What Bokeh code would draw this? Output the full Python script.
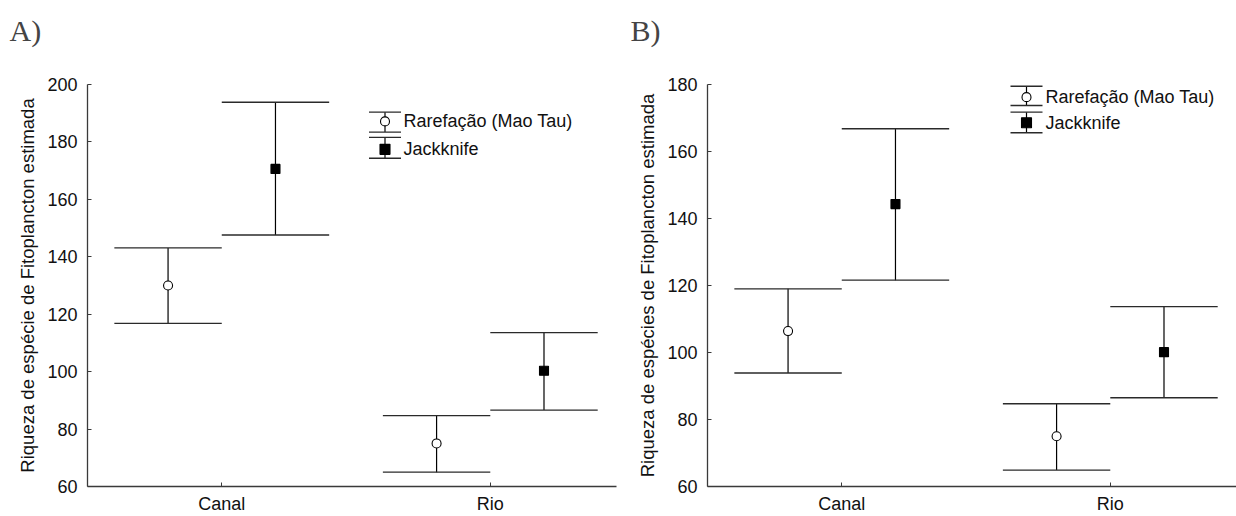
from bokeh.plotting import figure
from bokeh.layouts import row
from bokeh.models import FixedTicker, Label, Range1d
from bokeh.embed import file_html
from bokeh.resources import INLINE

# Categories on the x axis
categories = ["Canal", "Rio"]
series_names = ["Rarefação (Mao Tau)", "Jackknife"]

# Panel A: richness estimates with confidence limits
a_rare_mean = [130.0, 75.0]
a_rare_low = [116.8, 65.0]
a_rare_high = [143.1, 84.7]
a_jack_mean = [170.6, 100.3]
a_jack_low = [147.6, 86.6]
a_jack_high = [193.8, 113.6]

# Panel B
b_rare_mean = [106.4, 75.0]
b_rare_low = [93.9, 64.9]
b_rare_high = [119.0, 84.7]
b_jack_mean = [144.3, 100.1]
b_jack_low = [121.6, 86.5]
b_jack_high = [166.8, 113.7]

a_yticks = [60, 80, 100, 120, 140, 160, 180, 200]
b_yticks = [60, 80, 100, 120, 140, 160, 180]

SANS = "Liberation Sans"
SERIF = "Liberation Serif"
FS = "18px"
AXIS_COLOR = "#3a3a3a"

X_RANGE = (-0.5, 1.47)
FRAME_W = 529
FRAME_H = 403
DODGE = 0.2
CAP = 0.2


def make_panel(tag, tag_offset, ylabel, yr, yticks, rare, jack, left_border, right_border, legend_px):
    p = figure(width=618, height=516, output_backend="svg", toolbar_location=None,
               x_range=Range1d(*X_RANGE), y_range=Range1d(*yr),
               min_border_left=left_border, min_border_right=right_border,
               min_border_top=84, min_border_bottom=29)
    p.outline_line_color = None
    p.grid.visible = False
    p.background_fill_color = "white"
    p.border_fill_color = "white"

    # panel tag (trailing blank line lifts it away from the frame)
    p.title.text = tag + "\n "
    p.title.text_font = SERIF
    p.title.text_font_size = "30px"
    p.title.text_font_style = "normal"
    p.title.align = "left"
    p.title.offset = tag_offset
    p.title.standoff = 10

    # axes
    p.xaxis.ticker = FixedTicker(ticks=list(range(len(categories))))
    p.xaxis.major_label_overrides = {i: c for i, c in enumerate(categories)}
    p.yaxis.ticker = FixedTicker(ticks=yticks)
    for ax in (p.xaxis, p.yaxis):
        ax.axis_line_color = AXIS_COLOR
        ax.axis_line_width = 1.3
        ax.major_tick_line_color = AXIS_COLOR
        ax.major_tick_in = 4
        ax.major_tick_out = 0
        ax.minor_tick_line_color = None
        ax.major_label_text_font = SANS
        ax.major_label_text_font_size = FS
        ax.major_label_text_color = "#111111"
    p.xaxis.major_label_standoff = 7
    p.yaxis.major_label_standoff = 10
    p.yaxis.axis_label = ylabel
    p.yaxis.axis_label_text_font = SANS
    p.yaxis.axis_label_text_font_size = "18.5px"
    p.yaxis.axis_label_text_font_style = "normal"
    p.yaxis.axis_label_text_color = "#111111"
    p.yaxis.axis_label_standoff = 6

    # error bars with centre markers
    for (mean, low, high), off, marker, fill in (
        (rare, -DODGE, "circle", "white"),
        (jack, DODGE, "square", "black"),
    ):
        xs = [i + off for i in range(len(categories))]
        p.segment(x0=xs, x1=xs, y0=low, y1=high, line_color="black", line_width=1.2)
        x0 = [x - CAP for x in xs]
        x1 = [x + CAP for x in xs]
        p.segment(x0=x0, x1=x1, y0=high, y1=high, line_color="#2a2a2a", line_width=1.4)
        p.segment(x0=x0, x1=x1, y0=low, y1=low, line_color="#2a2a2a", line_width=1.4)
        p.scatter(x=xs, y=mean, marker=marker, size=9, fill_color=fill,
                  line_color="black", line_width=1.1)

    # pixel offsets (from frame left / top) to data coordinates
    def dx(px):
        return X_RANGE[0] + px * (X_RANGE[1] - X_RANGE[0]) / FRAME_W

    def dy(px):
        return yr[1] - px * (yr[1] - yr[0]) / FRAME_H

    # legend drawn as small error-bar icons
    cx, half, text_x, rows = legend_px
    for (top, mid, bot), marker, fill, name in zip(rows, ("circle", "square"), ("white", "black"), series_names):
        p.segment(x0=[dx(cx)], x1=[dx(cx)], y0=[dy(top)], y1=[dy(bot)], line_color="black", line_width=1.2)
        p.segment(x0=[dx(cx - half)] * 2, x1=[dx(cx + half)] * 2, y0=[dy(top), dy(bot)], y1=[dy(top), dy(bot)],
                  line_color="#2a2a2a", line_width=1.4)
        p.scatter(x=[dx(cx)], y=[dy(mid)], marker=marker, size=9 if marker == "circle" else 10,
                  fill_color=fill, line_color="black", line_width=1.1)
        p.add_layout(Label(x=dx(text_x), y=dy(mid), text=name, text_font=SANS, text_font_size=FS,
                           text_baseline="middle", text_align="left", text_color="#111111"))
    return p


pa = make_panel("A)", -78, "Riqueza de espécie de Fitoplancton estimada", (60, 200), a_yticks,
                (a_rare_mean, a_rare_low, a_rare_high), (a_jack_mean, a_jack_low, a_jack_high),
                87, 2, (297.5, 16, 316, [(27.7, 37, 47.7), (53, 65, 74)]))
pb = make_panel("B)", -77, "Riqueza de espécies de Fitoplancton estimada", (60, 180), b_yticks,
                (b_rare_mean, b_rare_low, b_rare_high), (b_jack_mean, b_jack_low, b_jack_high),
                89, 0, (319, 16, 338, [(1.7, 12.7, 21), (27.7, 38.3, 48.3)]))

layout = row(pa, pb, spacing=0)
open("out.html", "w").write(file_html(layout, INLINE))
